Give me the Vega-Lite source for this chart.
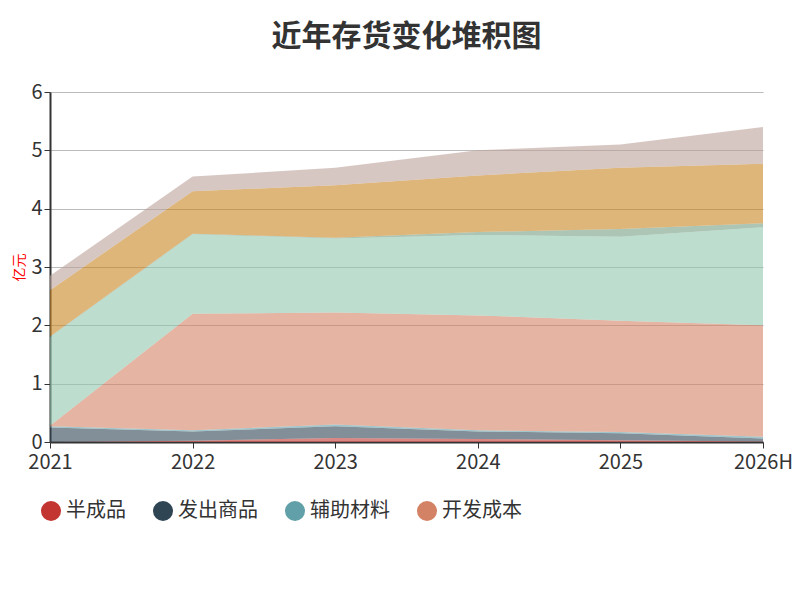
{
  "$schema": "https://vega.github.io/schema/vega-lite/v6.json",
  "background": "white",
  "padding": {"left": 12, "top": 22, "right": 32, "bottom": 10},
  "config": {
    "font": "Noto Sans CJK SC",
    "view": {"stroke": null}
  },
  "title": {
    "text": "制图数据来自恒生聚源数据库",
    "orient": "bottom",
    "anchor": "middle",
    "color": "#c8961e",
    "fontSize": 14,
    "fontWeight": "normal",
    "offset": 108
  },
  "data": {
    "values": [
      {"year": "2021", "name": "半成品", "k": 1, "v": 0.0},
      {"year": "2021", "name": "发出商品", "k": 2, "v": 0.25},
      {"year": "2021", "name": "辅助材料", "k": 3, "v": 0.02},
      {"year": "2021", "name": "开发成本", "k": 4, "v": 0.01},
      {"year": "2021", "name": "库存商品", "k": 5, "v": 1.52},
      {"year": "2021", "name": "在产品", "k": 6, "v": 0.01},
      {"year": "2021", "name": "原材料", "k": 7, "v": 0.79},
      {"year": "2021", "name": "周转材料", "k": 8, "v": 0.25},
      {"year": "2022", "name": "半成品", "k": 1, "v": 0.02},
      {"year": "2022", "name": "发出商品", "k": 2, "v": 0.16},
      {"year": "2022", "name": "辅助材料", "k": 3, "v": 0.02},
      {"year": "2022", "name": "开发成本", "k": 4, "v": 2.0},
      {"year": "2022", "name": "库存商品", "k": 5, "v": 1.36},
      {"year": "2022", "name": "在产品", "k": 6, "v": 0.01},
      {"year": "2022", "name": "原材料", "k": 7, "v": 0.73},
      {"year": "2022", "name": "周转材料", "k": 8, "v": 0.25},
      {"year": "2023", "name": "半成品", "k": 1, "v": 0.07},
      {"year": "2023", "name": "发出商品", "k": 2, "v": 0.2},
      {"year": "2023", "name": "辅助材料", "k": 3, "v": 0.03},
      {"year": "2023", "name": "开发成本", "k": 4, "v": 1.92},
      {"year": "2023", "name": "库存商品", "k": 5, "v": 1.27},
      {"year": "2023", "name": "在产品", "k": 6, "v": 0.01},
      {"year": "2023", "name": "原材料", "k": 7, "v": 0.9},
      {"year": "2023", "name": "周转材料", "k": 8, "v": 0.3},
      {"year": "2024", "name": "半成品", "k": 1, "v": 0.05},
      {"year": "2024", "name": "发出商品", "k": 2, "v": 0.13},
      {"year": "2024", "name": "辅助材料", "k": 3, "v": 0.02},
      {"year": "2024", "name": "开发成本", "k": 4, "v": 1.97},
      {"year": "2024", "name": "库存商品", "k": 5, "v": 1.38},
      {"year": "2024", "name": "在产品", "k": 6, "v": 0.05},
      {"year": "2024", "name": "原材料", "k": 7, "v": 0.97},
      {"year": "2024", "name": "周转材料", "k": 8, "v": 0.43},
      {"year": "2025", "name": "半成品", "k": 1, "v": 0.03},
      {"year": "2025", "name": "发出商品", "k": 2, "v": 0.12},
      {"year": "2025", "name": "辅助材料", "k": 3, "v": 0.02},
      {"year": "2025", "name": "开发成本", "k": 4, "v": 1.91},
      {"year": "2025", "name": "库存商品", "k": 5, "v": 1.44},
      {"year": "2025", "name": "在产品", "k": 6, "v": 0.13},
      {"year": "2025", "name": "原材料", "k": 7, "v": 1.05},
      {"year": "2025", "name": "周转材料", "k": 8, "v": 0.4},
      {"year": "2026H", "name": "半成品", "k": 1, "v": 0.01},
      {"year": "2026H", "name": "发出商品", "k": 2, "v": 0.05},
      {"year": "2026H", "name": "辅助材料", "k": 3, "v": 0.03},
      {"year": "2026H", "name": "开发成本", "k": 4, "v": 1.91},
      {"year": "2026H", "name": "库存商品", "k": 5, "v": 1.68},
      {"year": "2026H", "name": "在产品", "k": 6, "v": 0.07},
      {"year": "2026H", "name": "原材料", "k": 7, "v": 1.02},
      {"year": "2026H", "name": "周转材料", "k": 8, "v": 0.63}
    ]
  },
  "vconcat": [
    {
      "title": {"text": "近年存货变化堆积图", "fontSize": 30, "fontWeight": "bold", "color": "#333333", "offset": 30},
      "width": 713,
      "height": 350,
      "mark": {"type": "area", "opacity": 0.6, "line": false},
      "encoding": {
        "x": {
          "field": "year", "type": "ordinal",
          "scale": {"type": "point", "padding": 0},
          "axis": {"title": null, "labelAngle": 0, "labelFontSize": 20, "labelColor": "#333333", "domainColor": "#333333", "domainWidth": 2, "tickColor": "#333333", "tickSize": 6, "labelPadding": 4}
        },
        "y": {
          "field": "v", "type": "quantitative", "stack": "zero",
          "scale": {"domain": [0, 6]},
          "axis": {"title": "亿元", "titleColor": "#ff0000", "titleFontSize": 14, "titlePadding": 4, "titleFontWeight": "normal", "tickCount": 6, "labelFontSize": 20, "labelColor": "#333333", "domainColor": "#333333", "domainWidth": 2, "tickColor": "#333333", "tickSize": 6, "gridColor": "#bbbbbb"}
        },
        "order": {"field": "k", "type": "quantitative"},
        "color": {
          "field": "name", "type": "nominal",
          "sort": ["半成品", "发出商品", "辅助材料", "开发成本", "库存商品", "在产品", "原材料", "周转材料"],
          "scale": {
            "domain": ["半成品", "发出商品", "辅助材料", "开发成本", "库存商品", "在产品", "原材料", "周转材料"],
            "range": ["#c23531", "#2f4554", "#61a0a8", "#d48265", "#91c7ae", "#749f83", "#ca8622", "#bda29a"]
          },
          "legend": {
            "orient": "none", "legendX": -10, "legendY": 408, "direction": "horizontal", "title": null,
            "values": ["半成品", "发出商品", "辅助材料", "开发成本"],
            "symbolType": "circle", "symbolSize": 400, "symbolOpacity": 1,
            "labelFontSize": 20, "labelColor": "#333333", "columnPadding": 26
          }
        }
      }
    }
  ]
}
